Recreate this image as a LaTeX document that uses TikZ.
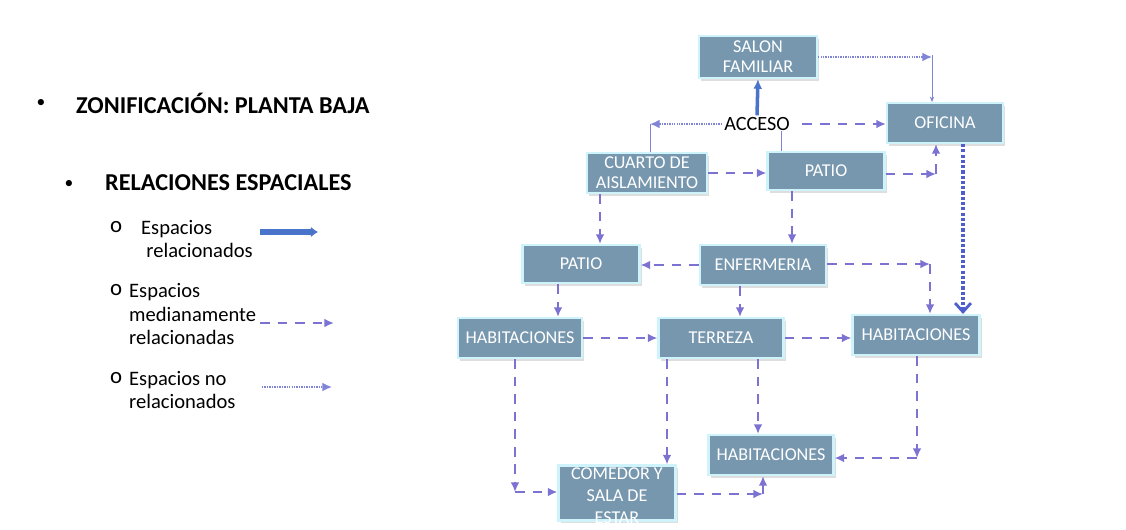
\documentclass[tikz,border=0pt]{standalone}
\usepackage{fontspec}
\setmainfont{Carlito}
\usetikzlibrary{shadows,arrows.meta}
\definecolor{boxfill}{HTML}{7797AF}
\definecolor{boxrim}{HTML}{CFF3FA}
\definecolor{dashcol}{HTML}{7B72D2}
\definecolor{solidcol}{HTML}{4A74C9}
\definecolor{dotcol}{HTML}{7F84D6}
\definecolor{deepdot}{HTML}{4D5FCC}

\begin{document}
\begin{tikzpicture}[x=0.02cm,y=-0.02cm,>={Latex[length=5.5pt,width=5pt]},
   box/.style={draw=boxrim,line width=1.2pt,fill=boxfill,text=white,
     minimum width=2.4cm,minimum height=0.8cm,inner sep=1pt,align=center,
     font=\fontsize{10.3}{11.5}\selectfont,
     drop shadow={shadow xshift=1.2pt,shadow yshift=-1.5pt,fill=black!25}},
   med/.style={->,dashcol,line width=1.5pt,dash pattern=on 5.5pt off 4.5pt},
   rel/.style={->,solidcol,line width=2pt},
   norel/.style={->,dotcol,line width=0.9pt,dash pattern=on 0.8pt off 0.6pt},
   hair/.style={dotcol,line width=0.5pt},
   bigdot/.style={-{Straight Barb[length=5pt,width=9pt,line width=1.6pt]},deepdot,
     line width=2.2pt,dash pattern=on 1.8pt off 1.2pt},
   head/.style={anchor=west,font=\fontsize{13.8}{16}\selectfont\bfseries},
   dot/.style={font=\fontsize{10}{12}\selectfont},
   item/.style={anchor=west,align=left,font=\fontsize{11.7}{13.6}\selectfont}]
   \useasboundingbox (0,0) rectangle (1126,529);
   \fill[white] (0,0) rectangle (1126,529);
   % leyenda
   \node[dot] (b1) at (41,103) {•};
   \node[head] (zon) at (70,103) {ZONIFICACIÓN: PLANTA BAJA};
   \node[dot] (b2) at (69,184) {•};
   \node[head] (rels) at (99,183) {RELACIONES ESPACIALES};
   \node[item,font=\fontsize{13}{14}\selectfont] (o1) at (104,227) {o};
   \node[item] (t1) at (135,239) {Espacios\\\hspace{3pt}relacionados};
   \node[item,font=\fontsize{13}{14}\selectfont] (o2) at (104,290) {o};
   \node[item] (t2) at (123,314) {Espacios\\medianamente\\relacionadas};
   \node[item,font=\fontsize{13}{14}\selectfont] (o3) at (104,378) {o};
   \node[item] (t3) at (123,390) {Espacios no\\relacionados};
   \draw[rel,line width=3pt,-{Latex[length=4pt,width=6pt]}] (260,232) -- (318,232);
   \draw[med] (260,323) -- (334,323);
   \draw[norel] (262,387) -- (332,387);
   % diagrama
   \node[box,minimum width=2.36cm,minimum height=0.84cm] (salon) at (758,57) {SALON\\FAMILIAR};
   \node[font=\fontsize{11.5}{13}\selectfont,inner sep=1pt] (acceso) at (757,124) {ACCESO};
   \node[box,minimum width=2.32cm] (oficina) at (945,123) {OFICINA};
   \node[box] (cuarto) at (647,173) {CUARTO DE\\AISLAMIENTO};
   \node[box,minimum width=2.34cm,minimum height=0.76cm] (patioA) at (826,171) {PATIO};
   \node[box,minimum width=2.34cm,minimum height=0.76cm] (patioB) at (581,264) {PATIO};
   \node[box,minimum width=2.52cm] (enfer) at (763,265) {ENFERMERIA};
   \node[box,minimum width=2.48cm] (habA) at (520,338) {HABITACIONES};
   \node[box,minimum width=2.5cm] (terreza) at (721,338) {TERREZA};
   \node[box,minimum width=2.54cm] (habB) at (916,335) {HABITACIONES};
   \node[box,minimum width=2.5cm] (habC) at (771,455) {HABITACIONES};
   \node[box,minimum width=2.34cm,minimum height=1.1cm] (comedor) at (617,493) {};
   \node[text=white,align=center,font=\fontsize{10.3}{12.6}\selectfont] (comtxt) at (617,496) {COMEDOR Y\\SALA DE\\ESTAR};
   \coordinate (c1) at (932,55);
   \coordinate (c2) at (650,124);
   \coordinate (c3) at (781,131);
   \coordinate (c4) at (936,174);
   \coordinate (c5) at (963,145);
   \coordinate (c6) at (600,193);
   \coordinate (c7) at (792,190);
   \coordinate (c8) at (930,264);
   \coordinate (c9) at (558,283);
   \coordinate (c10) at (740,285);
   \coordinate (c11) at (515,492);
   \coordinate (c12) at (667,358);
   \coordinate (c13) at (758,358);
   \coordinate (c14) at (917,458);
   \coordinate (c15) at (763,494);
   \draw[rel] (acceso.north) -- (salon.south);
   \draw[norel] (salon.east) -- (salon.east -| c1);
   \draw[hair,-{Stealth[length=3pt,width=2.5pt]}] (c1) -- (c1 |- oficina.north);
   \draw[norel] (acceso.west) -- (c2);
   \draw[hair] (c2) -- (c2 |- cuarto.north);
   \draw[hair] (c3) -- (c3 |- patioA.north);
   \draw[med,shorten <=6pt] (acceso.east) -- (acceso.east -| oficina.west);
   \draw[med] (cuarto.east) -- (cuarto.east -| patioA.west);
   \draw[med] (patioA.east |- c4) -- (c4);
   \draw[med] (c4) -- (c4 |- oficina.south);
   \draw[bigdot] (c5 |- oficina.south) -- (c5 |- habB.north);
   \draw[med] (c6 |- cuarto.south) -- (c6 |- patioB.north);
   \draw[med] (c7 |- patioA.south) -- (c7 |- enfer.north);
   \draw[med] (enfer.west) -- (enfer.west -| patioB.east);
   \draw[med] (enfer.east |- c8) -- (c8);
   \draw[med] (c8) -- (c8 |- habB.north);
   \draw[med] (c9 |- patioB.south) -- (c9 |- habA.north);
   \draw[med] (c10 |- enfer.south) -- (c10 |- terreza.north);
   \draw[med] (habA.east) -- (terreza.west);
   \draw[med] (terreza.east) -- (terreza.east -| habB.west);
   \draw[med] (c11 |- habA.south) -- (c11);
   \draw[med] (c11) -- (c11 -| comedor.west);
   \draw[med] (c12 |- terreza.south) -- (c12 |- comedor.north);
   \draw[med] (c13 |- terreza.south) -- (c13 |- habC.north);
   \draw[med] (c14 |- habB.south) -- (c14);
   \draw[med] (c14) -- (c14 -| habC.east);
   \draw[med] (comedor.east |- c15) -- (c15);
   \draw[med] (c15) -- (c15 |- habC.south);
\end{tikzpicture}
\end{document}
